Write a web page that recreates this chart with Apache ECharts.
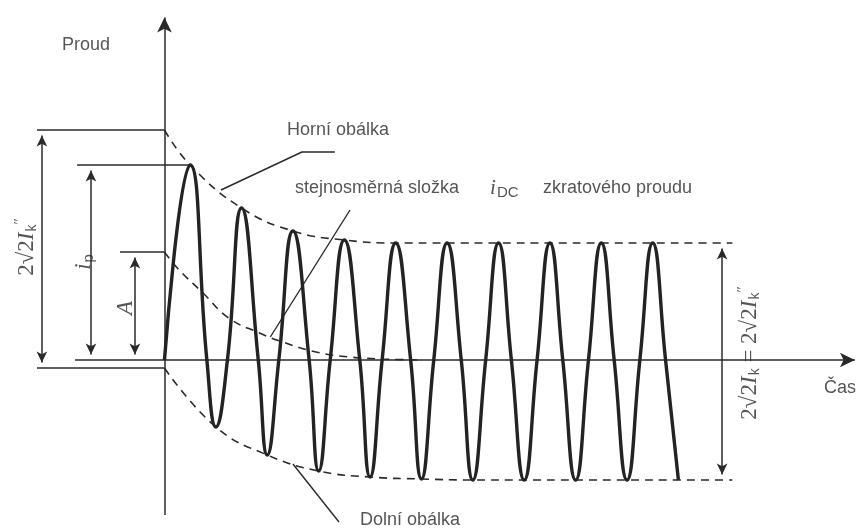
<!DOCTYPE html>
<html><head><meta charset="utf-8">
<script src="https://cdn.jsdelivr.net/npm/echarts@6/dist/echarts.min.js"></script>
<style>html,body{margin:0;padding:0;background:#fff}#c{width:866px;height:528px}</style>
</head><body><div id="c"></div>
<script>
// ---------- values (time in ms, current in relative units) ----------
// short-circuit current: peaks, troughs and zero crossings
const waveTime    = [0, 10, 16.5, 20, 24.5, 30, 36.5, 40, 44.5, 50, 56.3, 60, 64.5, 70, 76, 80, 84.7, 90, 95.8, 100, 104.8, 110, 115.5, 120, 125, 130, 135, 140, 145, 150, 155, 160, 165, 170, 175, 180, 185, 190, 195, 200];
const waveCurrent = [0, 1.95, 0, -0.67, 0, 1.52, 0, -0.95, 0, 1.29, 0, -1.11, 0, 1.20, 0, -1.17, 0, 1.17, 0, -1.19, 0, 1.17, 0, -1.20, 0, 1.17, 0, -1.20, 0, 1.17, 0, -1.20, 0, 1.17, 0, -1.20, 0, 1.17, 0, -1.20];
// upper envelope (Horní obálka)
const upperTime  = [0, 10, 30, 50, 70, 90, 110, 130, 150, 170, 190, 210, 221];
const upperValue = [2.30, 1.95, 1.52, 1.29, 1.20, 1.17, 1.17, 1.17, 1.17, 1.17, 1.17, 1.17, 1.17];
// lower envelope (Dolní obálka)
const lowerTime  = [0, 20, 40, 60, 80, 100, 120, 140, 160, 180, 200, 221];
const lowerValue = [-0.08, -0.67, -0.95, -1.11, -1.17, -1.19, -1.20, -1.20, -1.20, -1.20, -1.20, -1.20];
// DC component i_DC (stejnosměrná složka)
const dcTime  = [0, 5, 15, 25, 37, 46, 59, 72, 85, 100];
const dcValue = [1.08, 0.92, 0.67, 0.42, 0.27, 0.18, 0.08, 0.03, 0.01, 0.0];

// ---------- layout ----------
const X_MIN = -64, X_MAX = 273, Y_MIN = -1.68, Y_MAX = 3.6, W = 866, H = 528;
const dxPx = px => px * (X_MAX - X_MIN) / W;
const dyPx = px => px * (Y_MAX - Y_MIN) / H;
const INK = '#2a2a2a';
const SANS = 'Liberation Sans, Arial, sans-serif';
const SERIF = 'Liberation Serif, Times New Roman, serif';

const zip = (a, b) => a.map((v, i) => [v, b[i]]);
const U0 = upperValue[0], L0 = lowerValue[0];
const P1 = waveCurrent[1], D0 = dcValue[0];
const Us = upperValue[upperValue.length - 1], Ls = lowerValue[lowerValue.length - 1];

const DIM = [8, 11];
const AXA = [11, 15];
function line(p1, p2, a1, a2, size) {
  return [
    { coord: p1, symbol: a1 ? 'arrow' : 'none', symbolSize: size || DIM },
    { coord: p2, symbol: a2 ? 'arrow' : 'none', symbolSize: size || DIM }
  ];
}
const insV = dyPx(DIM[1] / 2);
const refLines = [
  // axes
  line([0, -1.55], [0, 3.5 - dyPx(AXA[1] / 2)], false, true, AXA),
  line([-34.8, 0], [271.6 - dxPx(AXA[1] / 2), 0], false, true, AXA),
  // 2*sqrt2*Ik'' dimension
  line([-49.6, U0], [0, U0], false, false),
  line([-49.6, L0], [0, L0], false, false),
  line([-47.7, U0 - insV], [-47.7, L0 + insV], true, true),
  // i_p dimension
  line([-34, P1], [10, P1], false, false),
  line([-28.6, P1 - insV], [-28.6, 0 + insV], true, true),
  // A dimension
  line([-17.3, D0], [0, D0], false, false),
  line([-11.5, D0 - insV], [-11.5, 0 + insV], true, true),
  // steady-state dimension
  line([217, Us - insV], [217, Ls + insV], true, true)
];

const rich = {
  s: { fontFamily: SANS, fontSize: 18, color: INK },
  m: { fontFamily: SERIF, fontSize: 23, color: INK },
  it: { fontFamily: SERIF, fontStyle: 'italic', fontSize: 23, color: INK },
  it2: { fontFamily: SERIF, fontStyle: 'italic', fontSize: 21, color: INK },
  sub: { fontFamily: SANS, fontSize: 14, color: INK, padding: [11, 0, 0, 1] },
  sub2: { fontFamily: SANS, fontSize: 15, color: INK, padding: [10, 0, 0, 1] },
  sup: { fontFamily: SERIF, fontSize: 15, color: INK, padding: [0, 0, 14, 0] }
};
const SQ = '2\u221A2';
const texts = [
  { p: [-30.5, 3.15], t: '{s|Proud}', align: 'center' },
  { p: [262.9, -0.28], t: '{s|Čas}', align: 'center' },
  { p: [47.7, 2.30], t: '{s|Horní obálka}', align: 'left' },
  { p: [50.8, 1.72], t: '{s|stejnosměrná složka}', align: 'left' },
  { p: [126.7, 1.72], t: '{it2|i}{sub2|DC}', align: 'left' },
  { p: [147.3, 1.72], t: '{s|zkratového proudu}', align: 'left' },
  { p: [76.1, -1.60], t: '{s|Dolní obálka}', align: 'left' },
  { p: [-53.5, 1.13], t: '{m|' + SQ + '}{it|I}{sub|k}{sup|″}', align: 'center', rotate: 90 },
  { p: [-31.3, 0.98], t: '{it|i}{sub2|p}', align: 'center', rotate: 90 },
  { p: [-15, 0.52], t: '{it|A}', align: 'center', rotate: 90 },
  { p: [227.8, 0.07], t: '{m|' + SQ + '}{it|I}{sub|k}{m| = ' + SQ + '}{it|I}{sub|k}{sup|″}', align: 'center', rotate: 90 }
];

const dashed = (name, data) => ({
  name, type: 'line', data, smooth: 0.45, showSymbol: false, silent: true, z: 3,
  lineStyle: { color: INK, width: 1.6, type: [8, 6] }
});
const leader = (data) => ({
  type: 'line', data, showSymbol: false, silent: true, z: 3,
  lineStyle: { color: INK, width: 1.4 }
});

const chart = echarts.init(document.getElementById('c'), null, { renderer: 'canvas' });
chart.setOption({
  animation: false,
  backgroundColor: '#fff',
  grid: { left: 0, right: 0, top: 0, bottom: 0 },
  xAxis: { type: 'value', min: X_MIN, max: X_MAX, show: false },
  yAxis: { type: 'value', min: Y_MIN, max: Y_MAX, show: false },
  series: [
    {
      name: 'ref', type: 'line', data: [], silent: true, z: 2,
      markLine: {
        silent: true, animation: false, precision: 4,
        label: { show: false },
        lineStyle: { color: INK, width: 1.5, type: 'solid' },
        emphasis: { disabled: true },
        itemStyle: { color: INK },
        data: refLines
      }
    },
    dashed('Horní obálka', zip(upperTime, upperValue)),
    dashed('Dolní obálka', zip(lowerTime, lowerValue)),
    dashed('stejnosměrná složka', zip(dcTime, dcValue)),
    leader([[22, 1.70], [53.5, 2.08], [66.3, 2.08]]),
    leader([[41.2, 0.23], [72.2, 1.50]]),
    leader([[50, -1.04], [67.9, -1.62]]),
    {
      name: 'Proud', type: 'line', data: zip(waveTime, waveCurrent), smooth: 0.5,
      showSymbol: false, silent: true, z: 5,
      lineStyle: { color: '#232323', width: 3.4 }
    },
    {
      type: 'scatter', silent: true, z: 6, symbolSize: 1,
      itemStyle: { color: 'rgba(0,0,0,0)' },
      data: texts.map(d => ({
        value: d.p,
        label: {
          show: true, position: 'inside', formatter: d.t, rich,
          align: d.align, verticalAlign: 'middle', rotate: d.rotate || 0
        }
      }))
    }
  ]
});
</script></body></html>
